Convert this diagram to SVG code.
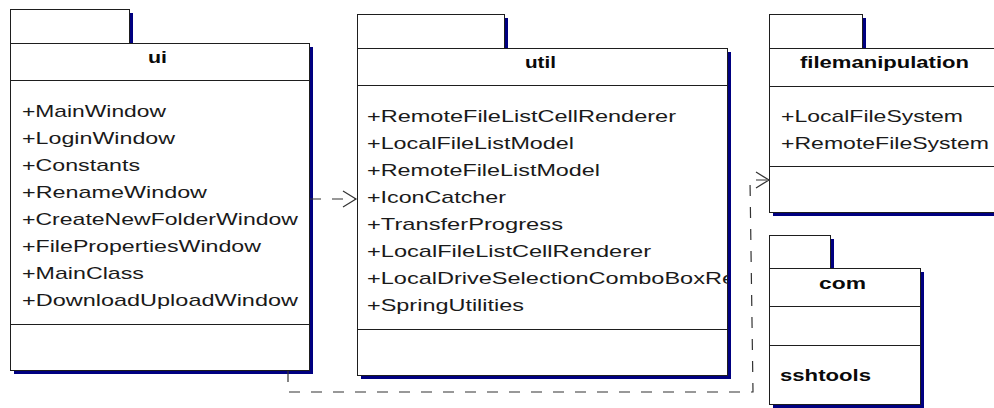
<svg xmlns="http://www.w3.org/2000/svg" width="994" height="408" viewBox="0 0 994 408">
  <style>
    .shadow { fill: #000080; }
    .box { fill: #ffffff; stroke: #1e1e1e; stroke-width: 1; }
    .div { stroke: #1e1e1e; stroke-width: 1; fill: none; }
    .title { font-family: "Liberation Sans", Arial, sans-serif; font-size: 17px; font-weight: bold; fill: #0a0a0a; }
    .member { font-family: "Liberation Sans", Arial, sans-serif; font-size: 17px; fill: #1a1a1a; }
    .dep { fill: none; stroke: #333333; stroke-width: 1.2; stroke-dasharray: 11 11; }
  </style>
  <defs>
    <marker id="open-arrow" markerUnits="userSpaceOnUse" markerWidth="20" markerHeight="20" viewBox="-14 -10 16 20" refX="0" refY="0" orient="auto">
      <path d="M-13,-8 L0,0 L-13,8" fill="none" stroke="#333333" stroke-width="1.2"/>
    </marker>
    <clipPath id="util-body">
      <rect x="358" y="86" width="369" height="243"/>
    </clipPath>
  </defs>
  <rect width="994" height="408" fill="#ffffff"/>

  <!-- package: ui -->
  <g id="pkg-ui">
    <rect class="shadow" x="14" y="13" width="119" height="34"/>
    <rect class="shadow" x="14" y="47" width="299" height="327"/>
    <rect class="box" x="10.5" y="9.5" width="119" height="34"/>
    <rect class="box" x="10.5" y="43.5" width="299" height="327"/>
    <line class="div" x1="10.5" y1="80.5" x2="309.5" y2="80.5"/>
    <line class="div" x1="10.5" y1="324.5" x2="309.5" y2="324.5"/>
    <text class="title" x="148" y="63" textLength="19" lengthAdjust="spacingAndGlyphs">ui</text>
    <text class="member" x="22" y="117" textLength="144" lengthAdjust="spacingAndGlyphs">+MainWindow</text>
    <text class="member" x="22" y="144" textLength="153" lengthAdjust="spacingAndGlyphs">+LoginWindow</text>
    <text class="member" x="22" y="171" textLength="118" lengthAdjust="spacingAndGlyphs">+Constants</text>
    <text class="member" x="22" y="198" textLength="185" lengthAdjust="spacingAndGlyphs">+RenameWindow</text>
    <text class="member" x="22" y="225" textLength="276" lengthAdjust="spacingAndGlyphs">+CreateNewFolderWindow</text>
    <text class="member" x="22" y="252" textLength="239" lengthAdjust="spacingAndGlyphs">+FilePropertiesWindow</text>
    <text class="member" x="22" y="279" textLength="122" lengthAdjust="spacingAndGlyphs">+MainClass</text>
    <text class="member" x="22" y="306" textLength="276" lengthAdjust="spacingAndGlyphs">+DownloadUploadWindow</text>
  </g>

  <!-- package: util -->
  <g id="pkg-util">
    <rect class="shadow" x="361" y="18" width="147" height="34"/>
    <rect class="shadow" x="361" y="52" width="370" height="327"/>
    <rect class="box" x="357.5" y="14.5" width="147" height="34"/>
    <rect class="box" x="357.5" y="48.5" width="370" height="327"/>
    <line class="div" x1="357.5" y1="85.5" x2="727.5" y2="85.5"/>
    <line class="div" x1="357.5" y1="329.5" x2="727.5" y2="329.5"/>
    <text class="title" x="525" y="68" textLength="31" lengthAdjust="spacingAndGlyphs">util</text>
    <g clip-path="url(#util-body)">
      <text class="member" x="367" y="122" textLength="309" lengthAdjust="spacingAndGlyphs">+RemoteFileListCellRenderer</text>
      <text class="member" x="367" y="149" textLength="207" lengthAdjust="spacingAndGlyphs">+LocalFileListModel</text>
      <text class="member" x="367" y="176" textLength="233" lengthAdjust="spacingAndGlyphs">+RemoteFileListModel</text>
      <text class="member" x="367" y="203" textLength="139" lengthAdjust="spacingAndGlyphs">+IconCatcher</text>
      <text class="member" x="367" y="230" textLength="196" lengthAdjust="spacingAndGlyphs">+TransferProgress</text>
      <text class="member" x="367" y="257" textLength="284" lengthAdjust="spacingAndGlyphs">+LocalFileListCellRenderer</text>
      <text class="member" x="367" y="284" textLength="368" lengthAdjust="spacingAndGlyphs">+LocalDriveSelectionComboBoxRe</text>
      <text class="member" x="367" y="311" textLength="157" lengthAdjust="spacingAndGlyphs">+SpringUtilities</text>
    </g>
  </g>

  <!-- package: filemanipulation -->
  <g id="pkg-filemanipulation">
    <rect class="shadow" x="773" y="18" width="93" height="34"/>
    <rect class="shadow" x="773" y="52" width="240" height="164"/>
    <rect class="box" x="769.5" y="14.5" width="93" height="34"/>
    <rect class="box" x="769.5" y="48.5" width="240" height="164"/>
    <line class="div" x1="769.5" y1="86.5" x2="1009.5" y2="86.5"/>
    <line class="div" x1="769.5" y1="166.5" x2="1009.5" y2="166.5"/>
    <text class="title" x="800" y="68" textLength="169" lengthAdjust="spacingAndGlyphs">filemanipulation</text>
    <text class="member" x="781" y="122" textLength="182" lengthAdjust="spacingAndGlyphs">+LocalFileSystem</text>
    <text class="member" x="781" y="149" textLength="208" lengthAdjust="spacingAndGlyphs">+RemoteFileSystem</text>
  </g>

  <!-- package: com -->
  <g id="pkg-com">
    <rect class="shadow" x="773" y="239" width="61" height="33"/>
    <rect class="shadow" x="773" y="272" width="151" height="136"/>
    <rect class="box" x="769.5" y="235.5" width="61" height="33"/>
    <rect class="box" x="769.5" y="268.5" width="151" height="136"/>
    <line class="div" x1="769.5" y1="306.5" x2="920.5" y2="306.5"/>
    <line class="div" x1="769.5" y1="345.5" x2="920.5" y2="345.5"/>
    <text class="title" x="819" y="289" textLength="47" lengthAdjust="spacingAndGlyphs">com</text>
    <text class="title" x="780" y="381" textLength="91" lengthAdjust="spacingAndGlyphs">sshtools</text>
  </g>

  <!-- dependencies -->
  <g id="connectors">
    <path class="dep" d="M310,199 H356" marker-end="url(#open-arrow)"/>
    <path class="dep" d="M288,371 V392 H753 L750,180 H769" marker-end="url(#open-arrow)"/>
  </g>
</svg>
